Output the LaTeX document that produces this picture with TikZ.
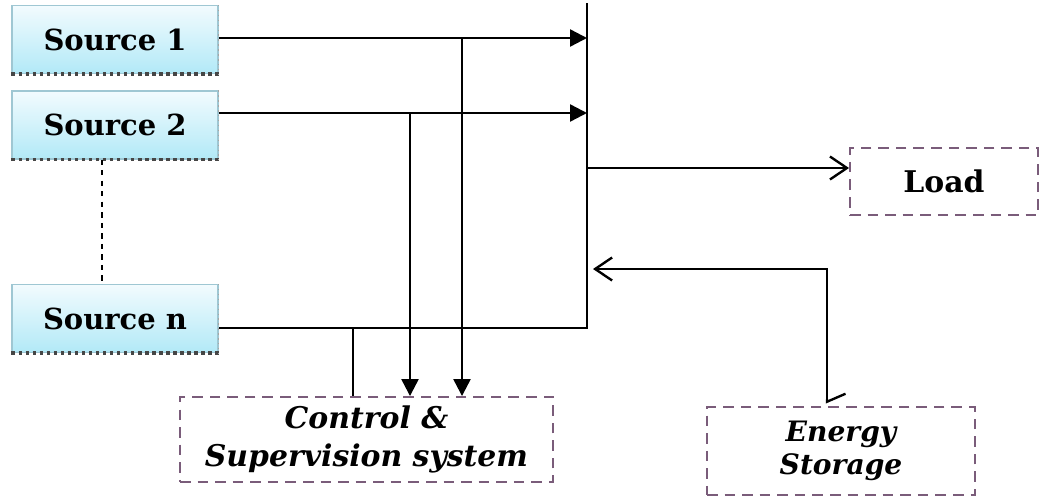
\documentclass[tikz,border=0pt]{standalone}
\usepackage{fontspec}
\setmainfont{DejaVu Serif}
\usepackage{tikz}
\usetikzlibrary{arrows.meta,positioning}
\definecolor{srcedge}{HTML}{9FC7D3}
\definecolor{srctop}{HTML}{F2FBFE}
\definecolor{srcbot}{HTML}{B2E9F7}
\definecolor{dashedge}{HTML}{7A5C7A}

\begin{document}
\begin{tikzpicture}[x=0.02cm,y=-0.02cm,line width=1.35pt,
  srcbox/.style={draw=srcedge,line width=0.6pt,top color=srctop,bottom color=srcbot,minimum width=4.12cm,minimum height=1.36cm,font=\fontsize{16.5}{19}\selectfont\bfseries},
  dashbox/.style={draw=dashedge,dash pattern=on 6pt off 4pt,line width=1.1pt,fill=white,align=center},
  bar/.style={-{Triangle[length=3.4mm,width=3.4mm]}},
  barb/.tip={Straight Barb[length=3.4mm,width=4.6mm]},
  tick/.tip={Straight Barb[harpoon,length=1.6mm,width=7.4mm]}]
\useasboundingbox (0,0) rectangle (1040,497);
% sources
\node[srcbox] (s1) at (115,39.5) {Source 1};
\node[srcbox] (s2) at (115,125) {Source 2};
\node[srcbox] (sn) at (115,318.5) {Source n};
\foreach \s in {s1,s2,sn} {
  \draw[dotted,line width=2pt,gray!55!black] (\s.south west) -- (\s.south east);
  \draw[dotted,line width=0.8pt,gray!70] (\s.north east) -- (\s.south east);
}
\coordinate (dv) at (102,0);
\draw[dashed,line width=0.9pt] (s2.south -| dv) -- (sn.north -| dv);
% other blocks
\node[dashbox,minimum width=7.46cm,minimum height=1.7cm,font=\fontsize{17}{22}\selectfont\bfseries\itshape] (ctrl) at (366.5,439.5) {Control \&\\Supervision system};
\node[dashbox,minimum width=3.76cm,minimum height=1.34cm,font=\fontsize{17}{20}\selectfont\bfseries] (load) at (944,181.5) {Load};
\node[dashbox,minimum width=5.36cm,minimum height=1.76cm,font=\fontsize{16}{19}\selectfont\bfseries\itshape] (store) at (841,451) {Energy\\Storage};
% bus
\coordinate (bustop) at (587,3);
\coordinate (b1) at (587,38);
\coordinate (b2) at (587,113);
\coordinate (bl) at (587,168);
\coordinate (be) at (593,269);
\coordinate (bn) at (587,328);
\draw (bustop) -- (bn) -- (bn -| sn.east);
\draw[bar] (b1 -| s1.east) -- (b1);
\draw[bar] (b2 -| s2.east) -- (b2);
% to control
\coordinate (d1) at (462,0);
\coordinate (d2) at (410,0);
\coordinate (dn) at (353,0);
\draw[bar] (b1 -| d1) -- (ctrl.north -| d1);
\draw[bar] (b2 -| d2) -- (ctrl.north -| d2);
\draw (bn -| dn) -- (ctrl.north -| dn);
% load and storage
\draw[-barb] (bl) -- (bl -| load.west);
\coordinate (ec) at (827,0);
\draw[tick-barb] ([yshift=0.5mm]store.north -| ec) -- (be -| ec) -- (be);
\end{tikzpicture}
\end{document}
